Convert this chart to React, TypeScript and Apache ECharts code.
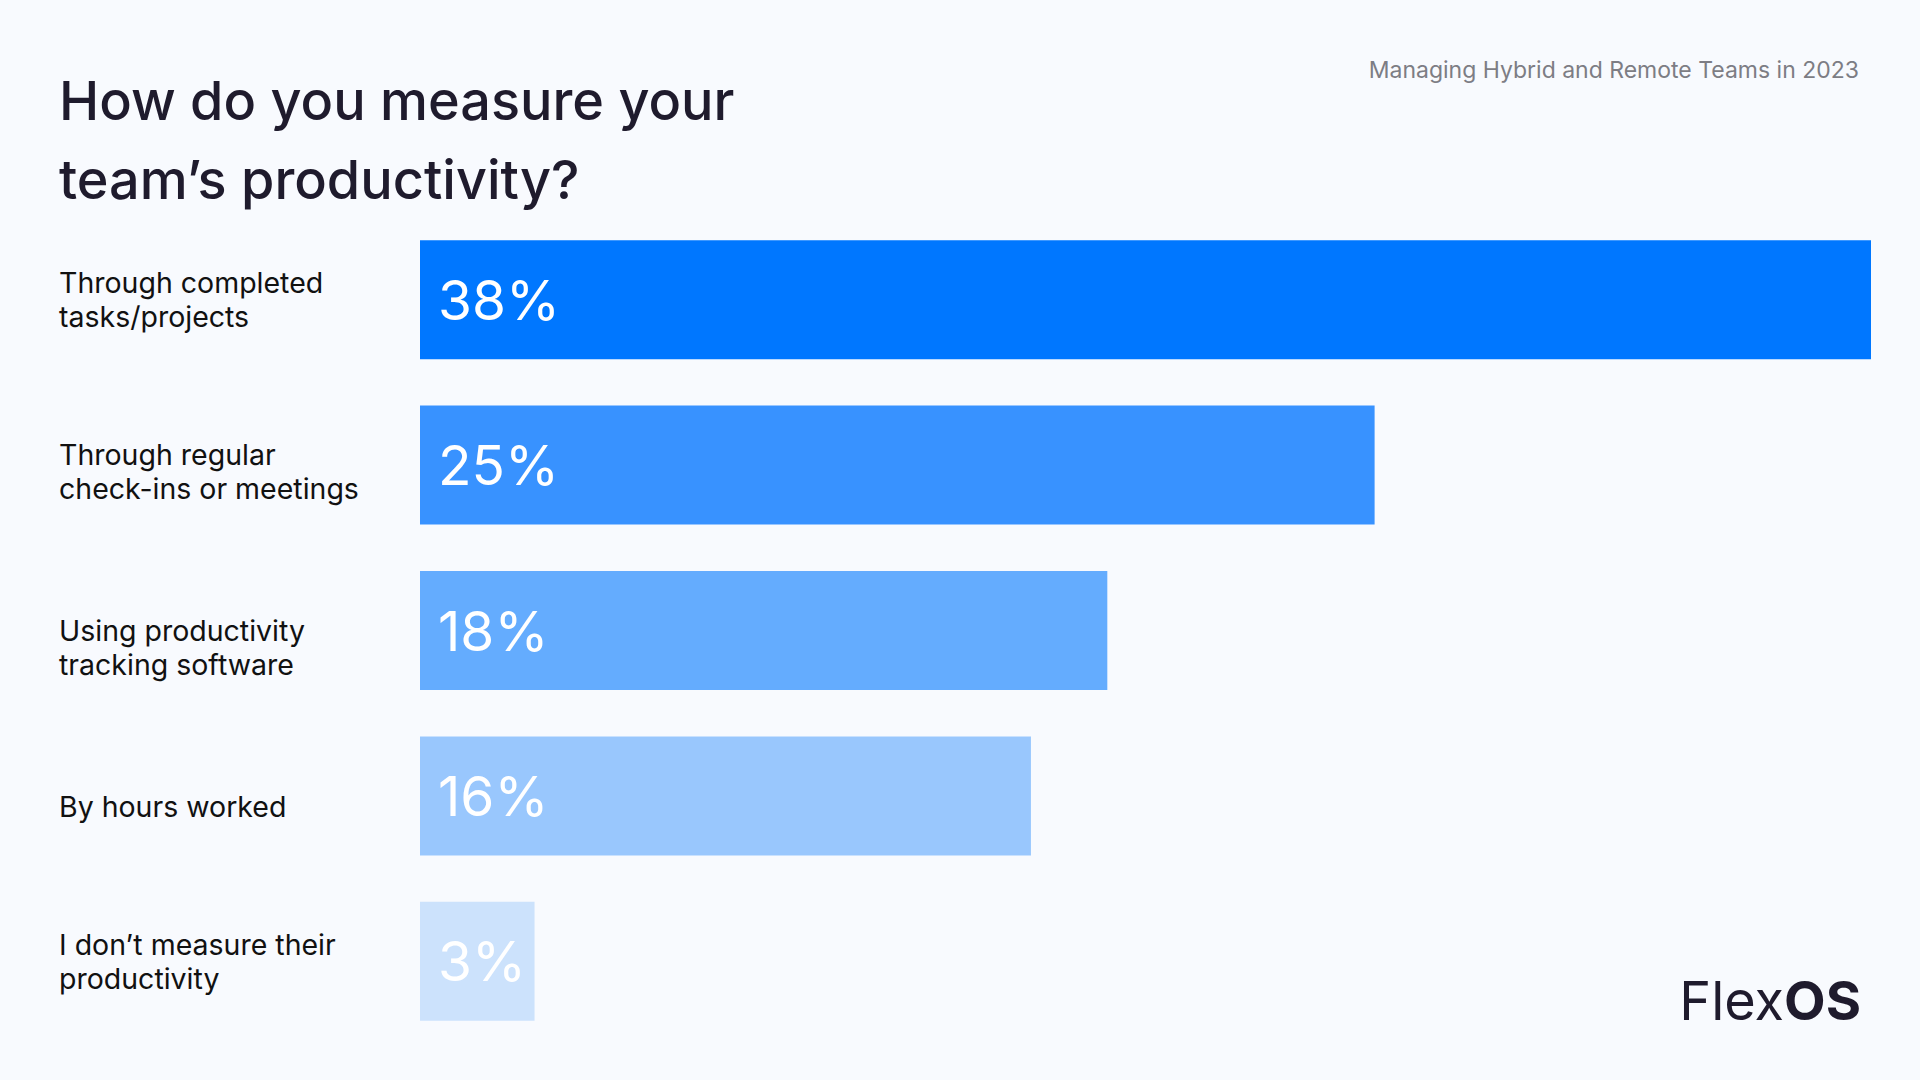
import React, { useEffect, useRef } from "react";
import * as echarts from "echarts";

const categories = [
  "Through completed\ntasks/projects",
  "Through regular\ncheck-ins or meetings",
  "Using productivity\ntracking software",
  "By hours worked",
  "I don\u2019t measure their\nproductivity",
];
const values = [38, 25, 18, 16, 3];
const barColors = ["#0077FF", "#3892FF", "#64ACFE", "#99C7FD", "#CCE2FC"];
// vertical nudge (px) of each category label below its bar's centre, as in the reference
const labelOffsets = [0, 6, 17, 11, 0];

const titleText = "How do you measure your\nteam\u2019s productivity?";
const subtitleText = "Managing Hybrid and Remote Teams in 2023";

const FONT = "Inter, 'Noto Sans', sans-serif";

export default function App() {
  const ref = useRef<HTMLDivElement>(null);
  useEffect(() => {
    document.body.style.margin = "0";
    const chart = echarts.init(ref.current!, null, { renderer: "svg" });
    const rich: Record<string, any> = {
      t: { fontFamily: FONT, fontSize: 28.5, lineHeight: 34, color: "#111111" },
    };
    labelOffsets.forEach((o, i) => {
      if (o > 0) rich["s" + i] = { fontSize: 1, lineHeight: o * 2 };
    });
    chart.setOption({
      animation: false,
      backgroundColor: "#F8FAFE",
      title: {
        text: titleText,
        left: 54,
        top: 56,
        textStyle: {
          fontFamily: FONT,
          fontSize: 54,
          fontWeight: 500,
          color: "#1F1B2D",
          lineHeight: 79,
        },
      },
      grid: { left: 420, right: 49, top: 217, bottom: 36, containLabel: false },
      xAxis: { type: "value", min: 0, max: 38, show: false },
      yAxis: {
        type: "category",
        inverse: true,
        data: categories,
        axisLine: { show: false },
        axisTick: { show: false },
        splitLine: { show: false },
        axisLabel: {
          align: "left",
          margin: 361,
          fontFamily: FONT,
          fontSize: 28.5,
          lineHeight: 34,
          color: "#111111",
          formatter: (value: string, index: number) => {
            const body = value
              .split("\n")
              .map((l) => `{t|${l}}`)
              .join("\n");
            return labelOffsets[index] > 0 ? `{s${index}| }\n${body}` : body;
          },
          rich,
        },
      },
      series: [
        {
          type: "bar",
          barWidth: 119,
          data: values.map((v, i) => ({ value: v, itemStyle: { color: barColors[i] } })),
          label: {
            show: true,
            position: "insideLeft",
            distance: 18,
            formatter: "{c}%",
            fontFamily: FONT,
            fontSize: 55,
            fontWeight: 400,
            color: "#FFFFFF",
          },
        },
      ],
      graphic: [
        {
          type: "text",
          x: 1859,
          y: 70,
          style: {
            text: subtitleText,
            align: "right",
            verticalAlign: "middle",
            fontFamily: FONT,
            fontSize: 23,
            fill: "#7D7D84",
          },
        },
        {
          type: "text",
          x: 1861,
          y: 1000,
          style: {
            text: "{a|Flex}{b|OS}",
            align: "right",
            verticalAlign: "middle",
            rich: {
              a: { fontFamily: FONT, fontSize: 54, fontWeight: 400, fill: "#1F1B2D", color: "#1F1B2D" },
              b: { fontFamily: FONT, fontSize: 54, fontWeight: 700, fill: "#1F1B2D", color: "#1F1B2D" },
            },
          },
        },
      ],
    });
    return () => chart.dispose();
  }, []);
  return <div ref={ref} style={{ position: "absolute", left: 0, top: 0, width: 1920, height: 1080 }} />;
}
